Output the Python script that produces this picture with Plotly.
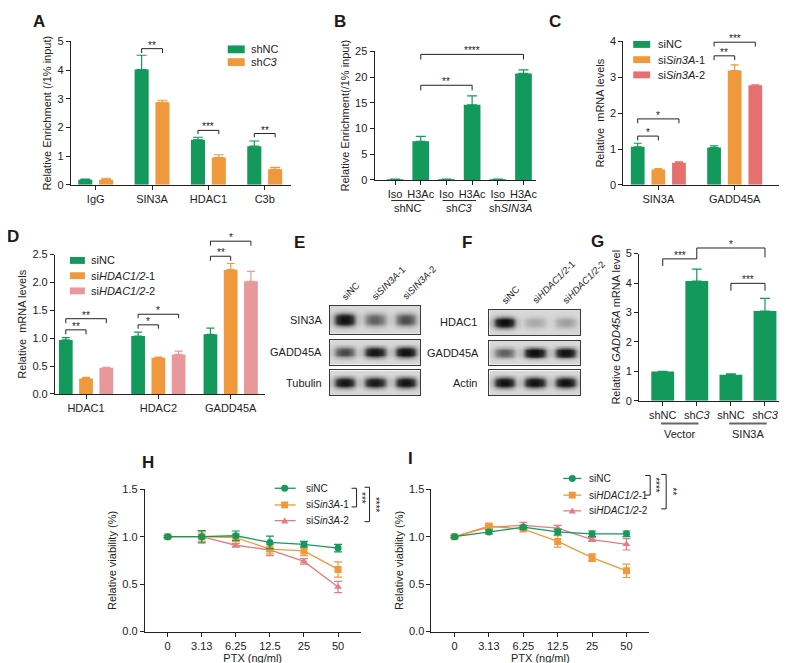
import numpy as np
import plotly.graph_objects as go

W, H = 787, 663
def fx(p): return p / W
def fy(p): return 1 - p / H

GREEN = '#12995B'
ORANGE = '#F0993C'
PINK_C = '#E4706F'
PINK_D = '#E8979A'
PINK_H = '#E97A80'
INK = '#222222'
FONT = 'Liberation Sans, Arial, sans-serif'
TF = 11      # tick font
TT = 11      # axis title font

# ---------------- data ----------------
a_cats = ['IgG', 'SIN3A', 'HDAC1', 'C3b']
a_shNC = [0.18, 4.02, 1.57, 1.35]
a_shNC_err = [0.02, 0.50, 0.09, 0.18]
a_shC3 = [0.18, 2.88, 0.95, 0.54]
a_shC3_err = [0.05, 0.07, 0.10, 0.07]

b_cats = ['Iso', 'H3Ac', 'Iso', 'H3Ac', 'Iso', 'H3Ac']
b_groups = ['shNC', 'sh<i>C3</i>', 'sh<i>SIN3A</i>']
b_vals = [0.12, 7.5, 0.12, 14.6, 0.12, 20.7]
b_err = [0.05, 0.95, 0.05, 1.75, 0.05, 0.7]

c_cats = ['SIN3A', 'GADD45A']
c_siNC = [1.06, 1.04]
c_siNC_err = [0.10, 0.05]
c_si1 = [0.43, 3.19]
c_si1_err = [0.02, 0.16]
c_si2 = [0.62, 2.78]
c_si2_err = [0.02, 0.01]

d_cats = ['HDAC1', 'HDAC2', 'GADD45A']
d_siNC = [0.97, 1.04, 1.07]
d_siNC_err = [0.04, 0.07, 0.11]
d_si1 = [0.28, 0.65, 2.23]
d_si1_err = [0.02, 0.01, 0.11]
d_si2 = [0.47, 0.71, 2.02]
d_si2_err = [0.01, 0.06, 0.18]

g_cats = ['shNC', 'sh<i>C3</i>', 'shNC', 'sh<i>C3</i>']
g_groups = ['Vector', 'SIN3A']
g_vals = [1.0, 4.07, 0.89, 3.05]
g_err = [0.0, 0.40, 0.03, 0.43]

ptx = ['0', '3.13', '6.25', '12.5', '25', '50']
h_siNC = [1.0, 1.0, 1.01, 0.94, 0.92, 0.88]
h_siNC_err = [0.01, 0.065, 0.05, 0.065, 0.03, 0.04]
h_si1 = [1.0, 1.0, 0.99, 0.87, 0.85, 0.655]
h_si1_err = [0.01, 0.05, 0.04, 0.05, 0.05, 0.08]
h_si2 = [1.0, 1.0, 0.91, 0.86, 0.74, 0.47]
h_si2_err = [0.01, 0.02, 0.02, 0.06, 0.03, 0.06]

i_siNC = [1.0, 1.05, 1.10, 1.05, 1.03, 1.03]
i_siNC_err = [0.01, 0.02, 0.02, 0.03, 0.03, 0.03]
i_si1 = [1.0, 1.11, 1.08, 0.95, 0.78, 0.64]
i_si1_err = [0.01, 0.03, 0.02, 0.06, 0.04, 0.07]
i_si2 = [1.0, 1.10, 1.12, 1.09, 0.97, 0.92]
i_si2_err = [0.01, 0.02, 0.03, 0.03, 0.02, 0.06]

e_lanes = ['siNC', 'si<i>SIN3A</i>-1', 'si<i>SIN3A</i>-2']
e_rows = ['SIN3A', 'GADD45A', 'Tubulin']
e_band = [[0.97, 0.52, 0.60], [0.62, 0.92, 0.97], [0.92, 0.90, 0.94]]
f_lanes = ['siNC', 'si<i>HDAC1/2</i>-1', 'si<i>HDAC1/2</i>-2']
f_rows = ['HDAC1', 'GADD45A', 'Actin']
f_band = [[1.0, 0.22, 0.27], [0.52, 1.0, 0.96], [0.96, 0.96, 0.96]]

# ---------------- helpers ----------------
fig = go.Figure()
layout = dict(width=W, height=H, margin=dict(l=0, r=0, t=0, b=0),
              paper_bgcolor='white', plot_bgcolor='rgba(0,0,0,0)', barmode='overlay',
              showlegend=False, font=dict(family=FONT, size=TF, color=INK))
shapes, annots = [], []

def axn(n, l): return f'{l}axis' if n == 1 else f'{l}axis{n}'
def rf(n, l): return l if n == 1 else f'{l}{n}'

def chart_axes(n, xpx, ypx, xr, yr, tickvals, ticktext, ydtick, yfmt=None, ytitle='', xtitle=None):
    xa = dict(domain=[fx(xpx[0]), fx(xpx[1])], range=xr, anchor=rf(n, 'y'),
              showline=True, linecolor=INK, linewidth=1, ticks='outside', ticklen=4,
              tickwidth=1, tickcolor=INK, tickmode='array', tickvals=tickvals, ticktext=ticktext,
              showgrid=False, zeroline=False, tickfont=dict(size=TF, color=INK))
    if xtitle:
        xa['title'] = dict(text=xtitle, font=dict(size=TT, color=INK), standoff=2)
    layout[axn(n, 'x')] = xa
    ya = dict(domain=[fy(ypx[1]), fy(ypx[0])], range=yr, anchor=rf(n, 'x'),
              showline=True, linecolor=INK, linewidth=1, ticks='outside',
              ticklen=4, tickwidth=1, tickcolor=INK, dtick=ydtick, tick0=0,
              showgrid=False, zeroline=False, tickfont=dict(size=TF, color=INK),
              title=dict(text=ytitle, font=dict(size=TT, color=INK), standoff=3))
    if yfmt:
        ya['tickformat'] = yfmt
    layout[axn(n, 'y')] = ya

def bars(n, xs, ys, errs, color, width, cap=4):
    fig.add_trace(go.Bar(x=list(xs), y=ys, width=width, marker=dict(color=color, line=dict(width=0)),
                         error_y=dict(type='data', array=errs, arrayminus=[0] * len(errs),
                                      symmetric=False, color=color, thickness=1.2, width=cap),
                         xaxis=rf(n, 'x'), yaxis=rf(n, 'y'), hoverinfo='skip'))

def bracket(n, top, x0, x1, y, yl, yr_, stars, size=10):
    xr_ = rf(n, 'x'); yd = rf(n, 'y') + ' domain'
    for (a, b, c, d) in [(x0, yl, x0, y), (x0, y, x1, y), (x1, y, x1, yr_)]:
        shapes.append(dict(type='line', xref=xr_, yref=yd, x0=a, y0=b / top, x1=c, y1=d / top,
                           line=dict(color=INK, width=1)))
    annots.append(dict(x=(x0 + x1) / 2, y=y / top, xref=xr_, yref=yd, text=stars,
                       showarrow=False, yanchor='bottom', yshift=-4,
                       font=dict(size=size, color=INK)))

def ptext(x, y, text, size=TF, xanchor='left', yanchor='middle', angle=0, color=INK):
    annots.append(dict(x=fx(x), y=fy(y), xref='paper', yref='paper', text=text, showarrow=False,
                       xanchor=xanchor, yanchor=yanchor, textangle=angle,
                       font=dict(size=size, color=color)))

def prect(x0, y0, x1, y1, color):
    shapes.append(dict(type='rect', xref='paper', yref='paper', x0=fx(x0), x1=fx(x1),
                       y0=fy(y1), y1=fy(y0), fillcolor=color, line=dict(width=0)))

def pline(x0, y0, x1, y1, color=INK, width=1):
    shapes.append(dict(type='line', xref='paper', yref='paper', x0=fx(x0), x1=fx(x1),
                       y0=fy(y0), y1=fy(y1), line=dict(color=color, width=width)))

# ---------------- A ----------------
n = 1
chart_axes(n, (63, 283), (28, 174), [-0.44, 3.46], [0, 5], list(range(4)), a_cats, 1,
           ytitle='Relative Enrichment (/1% input)')
xa = np.arange(len(a_cats))
bars(n, xa - 0.185, a_shNC, a_shNC_err, GREEN, 0.25, 5)
bars(n, xa + 0.185, a_shC3, a_shC3_err, ORANGE, 0.25, 5)
bracket(n, 5, 1 - 0.185, 1 + 0.185, 4.75, 4.6, 4.6, '**')
bracket(n, 5, 2 - 0.185, 2 + 0.185, 1.9, 1.77, 1.77, '***')
bracket(n, 5, 3 - 0.185, 3 + 0.185, 1.79, 1.66, 1.66, '**')
prect(220, 32, 237, 40, GREEN); ptext(241, 36, 'shNC')
prect(220, 45, 237, 53, ORANGE); ptext(241, 49, 'sh<i>C3</i>')

# ---------------- B ----------------
n = 2
chart_axes(n, (367, 529), (38, 169), [-0.8, 5.5], [0, 25], list(range(6)), b_cats, 5,
           ytitle='Relative Enrichment(/1% input)')
bars(n, range(6), b_vals, b_err, GREEN, 0.65, 5)
bracket(n, 25, 1, 3, 18.4, 17.4, 17.4, '**')
bracket(n, 25, 1, 5, 24.4, 23.4, 23.4, '****')
for k, g in enumerate(b_groups):
    shapes.append(dict(type='line', xref='x2', yref='paper', x0=2 * k - 0.15, x1=2 * k + 1.15,
                       y0=fy(190), y1=fy(190), line=dict(color=INK, width=1)))
    annots.append(dict(x=2 * k + 0.5, y=fy(198), xref='x2', yref='paper', text=g, showarrow=False,
                       xanchor='center', yanchor='middle', font=dict(size=TF, color=INK)))

# ---------------- C ----------------
n = 3
chart_axes(n, (616, 775), (28, 174), [-0.46, 1.62], [0, 4], [0, 1], c_cats, 1,
           ytitle='Relative  mRNA levels')
xc = np.arange(2)
bars(n, xc - 0.27, c_siNC, c_siNC_err, GREEN, 0.18, 4)
bars(n, xc, c_si1, c_si1_err, ORANGE, 0.18, 4)
bars(n, xc + 0.27, c_si2, c_si2_err, PINK_C, 0.18, 4)
bracket(n, 4, -0.27, 0, 1.36, 1.24, 1.24, '*')
bracket(n, 4, -0.27, 0.27, 1.84, 1.72, 1.72, '*')
bracket(n, 4, 0.73, 1, 3.6, 3.48, 3.48, '**')
bracket(n, 4, 0.73, 1.27, 3.98, 3.86, 3.86, '***')
for k, (lab, col) in enumerate(zip(['siNC', 'si<i>Sin3A</i>-1', 'si<i>Sin3A</i>-2'],
                                    [GREEN, ORANGE, PINK_C])):
    yy = 31 + 15.5 * k
    prect(626, yy - 3.5, 643, yy + 3.5, col); ptext(649, yy, lab)

# ---------------- D ----------------
n = 4
chart_axes(n, (47, 257), (245, 387), [-0.43, 2.47], [0, 2.5], [0, 1, 2], d_cats, 0.5,
           yfmt='.1f', ytitle='Relative  mRNA levels')
xd = np.arange(3)
bars(n, xd - 0.28, d_siNC, d_siNC_err, GREEN, 0.19, 4)
bars(n, xd, d_si1, d_si1_err, ORANGE, 0.19, 4)
bars(n, xd + 0.28, d_si2, d_si2_err, PINK_D, 0.19, 4)
bracket(n, 2.5, -0.28, 0, 1.15, 1.07, 1.07, '**')
bracket(n, 2.5, -0.28, 0.28, 1.35, 1.27, 1.27, '**')
bracket(n, 2.5, 0.72, 1, 1.24, 1.17, 1.17, '*')
bracket(n, 2.5, 0.72, 1.28, 1.43, 1.36, 1.36, '*')
bracket(n, 2.5, 1.72, 2, 2.47, 2.39, 2.39, '**')
bracket(n, 2.5, 1.72, 2.28, 2.74, 2.66, 2.66, '*')
for k, (lab, col) in enumerate(zip(['siNC', 'si<i>HDAC1/2</i>-1', 'si<i>HDAC1/2</i>-2'],
                                    [GREEN, ORANGE, PINK_D])):
    yy = 251 + 15.5 * k
    prect(62, yy - 3.5, 77, yy + 3.5, col); ptext(81, yy, lab)

# ---------------- G ----------------
n = 5
chart_axes(n, (632, 774), (244, 394), [-0.69, 3.47], [0, 5], list(range(4)), g_cats, 1,
           ytitle='Relative <i>GADD45A</i> mRNA level')
bars(n, range(4), g_vals, g_err, GREEN, 0.67, 5)
bracket(n, 5, 0, 1, 4.82, 4.58, 4.82, '***')
bracket(n, 5, 1, 3, 5.19, 4.82, 4.87, '*')
bracket(n, 5, 2, 3, 3.99, 3.74, 3.74, '***')
for k, g in enumerate(g_groups):
    shapes.append(dict(type='line', xref='x5', yref='paper', x0=2 * k - 0.05, x1=2 * k + 1.05,
                       y0=fy(417), y1=fy(417), line=dict(color='#666666', width=2)))
    annots.append(dict(x=2 * k + 0.5, y=fy(428), xref='x5', yref='paper', text=g, showarrow=False,
                       xanchor='center', yanchor='middle', font=dict(size=TF, color=INK)))

# ---------------- H & I ----------------
def viability(n, xpx, series):
    chart_axes(n, xpx, (484, 629), [-0.67, 5.66], [0, 1.5], list(range(6)), ptx, 0.5,
               yfmt='.1f', ytitle='Relative viability (%)', xtitle='PTX (ng/ml)')
    for ys, es, col, sym in series:
        fig.add_trace(go.Scatter(x=list(range(6)), y=ys, mode='lines+markers',
                                 line=dict(color=col, width=1.3),
                                 marker=dict(symbol=sym, size=7, color=col),
                                 error_y=dict(type='data', array=es, color=col, thickness=1.2, width=4),
                                 xaxis=rf(n, 'x'), yaxis=rf(n, 'y'), hoverinfo='skip'))

viability(6, (137, 353), [(h_si2, h_si2_err, PINK_H, 'triangle-up'),
                          (h_si1, h_si1_err, ORANGE, 'square'),
                          (h_siNC, h_siNC_err, GREEN, 'circle')])
viability(7, (424, 642), [(i_si2, i_si2_err, PINK_H, 'triangle-up'),
                          (i_si1, i_si1_err, ORANGE, 'square'),
                          (i_siNC, i_siNC_err, GREEN, 'circle')])

def glyph(x, y, sym, col, r=3.5):
    if sym == 'circle':
        shapes.append(dict(type='circle', xref='paper', yref='paper', x0=fx(x - r), x1=fx(x + r),
                           y0=fy(y + r), y1=fy(y - r), fillcolor=col, line=dict(width=0)))
    elif sym == 'square':
        prect(x - r, y - r, x + r, y + r, col)
    else:
        shapes.append(dict(type='path', xref='paper', yref='paper',
                           path=f'M {fx(x - r)},{fy(y + r * 0.8)} L {fx(x + r)},{fy(y + r * 0.8)} L {fx(x)},{fy(y - r)} Z',
                           fillcolor=col, line=dict(width=0)))

def line_legend(x0, x1, xm, xt, ys, labels, cols, syms):
    for yy, lab, col, sym in zip(ys, labels, cols, syms):
        pline(x0, yy, x1, yy, col, 1.3)
        glyph(xm, yy, sym, col)
        ptext(xt, yy, lab, size=10)

line_legend(267, 288, 277, 296, [483, 500, 516],
            ['siNC', 'si<i>Sin3A</i>-1', 'si<i>Sin3A</i>-2'],
            [GREEN, ORANGE, PINK_H], ['circle', 'square', 'triangle-up'])
line_legend(556, 574, 565, 580, [473, 490, 506],
            ['siNC', 'si<i>HDAC1/2</i>-1', 'si<i>HDAC1/2</i>-2'],
            [GREEN, ORANGE, PINK_H], ['circle', 'square', 'triangle-up'])

def side_bracket(x0, x1, y0, y1, stars, xs):
    pline(x0, y0, x1, y0); pline(x1, y0, x1, y1); pline(x0, y1, x1, y1)
    ptext(xs, (y0 + y1) / 2, stars, size=10, xanchor='center', angle=90)

side_bracket(344, 349, 483, 502, '***', 354)
side_bracket(357, 362, 482, 517, '****', 368)
side_bracket(638, 643, 470, 490, '****', 649)
side_bracket(654, 659, 469, 504, '**', 665)

# ---------------- E & F blots ----------------
colp = [0.15, 0.75, 1.0, 1.0, 0.75, 0.15]
rowp = [0.0, 0.05, 0.35, 0.9, 1.0, 0.9, 0.35, 0.05, 0.0]
BLOT_CS = [[0, '#e4e4e4'], [0.3, '#a0a0a0'], [0.7, '#333333'], [1, '#0a0a0a']]

def blot(n, xpx, ypx, intens):
    z = [[0.05 + 0.95 * I * cp * rp for I in intens for cp in colp] for rp in rowp]
    nc, nr = len(z[0]), len(z)
    fig.add_trace(go.Heatmap(z=z, zmin=0, zmax=1, colorscale=BLOT_CS, showscale=False,
                             zsmooth='best', xaxis=rf(n, 'x'), yaxis=rf(n, 'y'), hoverinfo='skip'))
    common = dict(showline=True, mirror=True, linecolor='#3a3a3a', linewidth=1.3,
                  showticklabels=False, ticks='', showgrid=False, zeroline=False)
    layout[axn(n, 'x')] = dict(domain=[fx(xpx[0]), fx(xpx[1])], range=[-0.5, nc - 0.5],
                               anchor=rf(n, 'y'), **common)
    layout[axn(n, 'y')] = dict(domain=[fy(ypx[1]), fy(ypx[0])], range=[-0.5, nr - 0.5],
                               anchor=rf(n, 'x'), **common)

e_x = (322, 413); f_x = (482, 573)
e_y = [(297, 326), (332, 357), (363, 388)]
f_y = [(301, 327), (333, 357), (363, 388)]
for k in range(3):
    blot(8 + k, e_x, e_y[k], e_band[k])
    ptext(316, sum(e_y[k]) / 2, e_rows[k], size=TF, xanchor='right')
    blot(11 + k, f_x, f_y[k], f_band[k])
    ptext(474 if k == 1 else 472, sum(f_y[k]) / 2, f_rows[k], size=TF, xanchor='right')

for k in range(3):
    lw = (e_x[1] - e_x[0]) / 3
    ptext(e_x[0] + lw * (k + 0.5) - 8, 296, e_lanes[k], size=9.5, xanchor='left', yanchor='bottom', angle=-45)
    lw = (f_x[1] - f_x[0]) / 3
    ptext(f_x[0] + lw * (k + 0.5) - 8, 300, f_lanes[k], size=9.5, xanchor='left', yanchor='bottom', angle=-45)

# ---------------- panel letters ----------------
for lab, x, y in [('A', 31, 8), ('B', 332, 8), ('C', 548, 8), ('D', 5, 227), ('E', 292, 233),
                  ('F', 460, 233), ('G', 590, 232), ('H', 140, 457), ('I', 403, 453)]:
    ptext(x, y, f'<b>{lab}</b>', size=17, xanchor='center', color='#231815')

layout['shapes'] = shapes
layout['annotations'] = annots
fig.update_layout(**layout)
fig.write_html('out.html')
